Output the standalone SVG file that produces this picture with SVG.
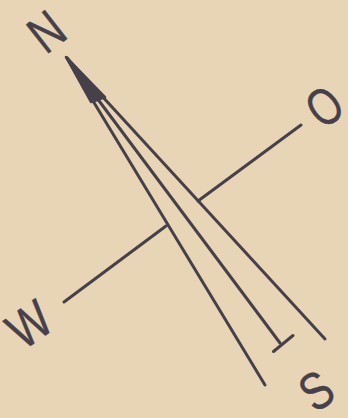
<svg xmlns="http://www.w3.org/2000/svg" width="348" height="418" viewBox="0 0 348 418">
<style>
.ln{stroke:#45404a;stroke-width:3;stroke-linecap:round;stroke-linejoin:round;fill:none}
.lt{font-family:"Liberation Sans",Arial,sans-serif;font-size:53px;fill:#45404a;stroke:#45404a;stroke-width:0.4;text-anchor:middle}
</style>
<rect width="348" height="418" fill="#e8d5b5"/>
<g id="connectors">
<line class="ln" x1="64" y1="302" x2="166" y2="226"/>
<line class="ln" x1="198" y1="201" x2="301" y2="125"/>
</g>
<g id="needle">
<path d="M66,57 L91,102 Q98,100 105,97 Z" fill="#45404a" stroke="#45404a" stroke-width="2.5" stroke-linejoin="round"/>
<line class="ln" x1="67" y1="58" x2="265" y2="385"/>
<line class="ln" x1="67" y1="58" x2="280" y2="343"/>
<line class="ln" x1="67" y1="58" x2="325" y2="339"/>
<line class="ln" x1="273.5" y1="351.5" x2="293" y2="335.5"/>
</g>
<g id="label-N"><text class="lt" transform="translate(46,31) rotate(-38) scale(0.8,1)" y="19">N</text></g>
<g id="label-O"><text class="lt" transform="translate(324,106) rotate(-38) scale(0.75,1)" y="19">O</text></g>
<g id="label-W"><text class="lt" transform="translate(29,324) rotate(-35) scale(0.82,1)" y="19">W</text></g>
<g id="label-S"><text class="lt" transform="translate(316,390) rotate(-35) scale(0.8,1)" y="19">S</text></g>
</svg>
